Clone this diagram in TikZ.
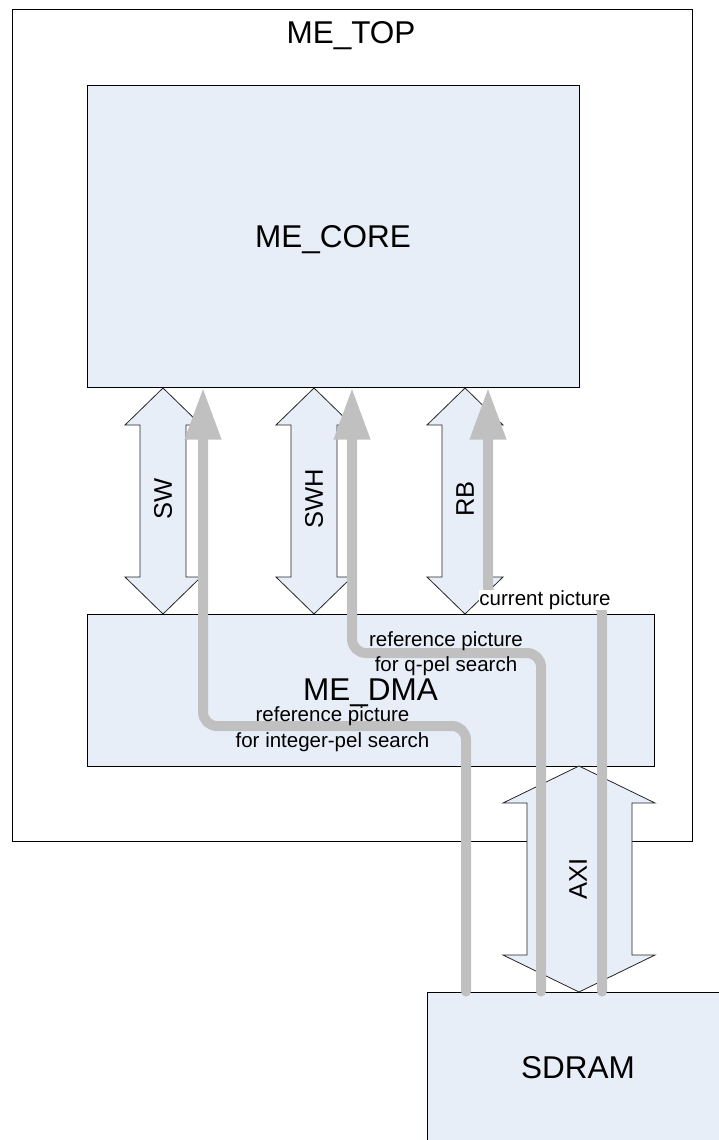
\documentclass[tikz,border=0pt]{standalone}
\usepackage{fontspec}
\setmainfont{Liberation Sans}
\usetikzlibrary{positioning,arrows.meta}
\definecolor{boxblue}{RGB}{232,238,247}
\definecolor{feedgray}{RGB}{192,192,192}

\begin{document}
\begin{tikzpicture}[x=1pt,y=-1pt,
  blk/.style={draw=black,line width=1pt,fill=boxblue,inner sep=0pt,text depth=0pt},
  bus/.style={draw=black!85,line width=0.8pt,fill=boxblue,line join=miter},
  feed/.style={draw=feedgray,line width=10pt,rounded corners=14pt,line cap=round,-{Triangle[width=34pt,length=52pt]}},
  big/.style={font=\fontsize{31.5}{36}\selectfont},
  buslab/.style={font=\fontsize{25.5}{30}\selectfont,rotate=90,inner sep=0pt},
  lab/.style={font=\fontsize{20.5}{25.5}\selectfont,align=center,inner sep=0pt}]
\useasboundingbox (0,0) rectangle (719,1140);
\clip (0,0) rectangle (719,1140);
% outer block
\node[draw=black,line width=1pt,minimum width=680pt,minimum height=831pt,inner sep=0pt] (top) at (352,425.5) {};
\node[big,anchor=base] (toplab) at (351,44) {ME\_TOP};
% inner blocks
\node[blk,big,minimum width=492pt,minimum height=302pt] (core) at (333,236) {ME\_CORE};
\node[blk,big,minimum width=567pt,minimum height=152pt] (dma) at (370.5,690) {ME\_DMA};
\node[blk,big,minimum width=302pt,minimum height=150pt] (sdram) at (578,1067) {SDRAM};
% buses core <-> dma
\foreach \cx/\lab in {163/SW,314/SWH,465/RB}{
  \draw[bus] (\cx,388) -- ++(38,37) -- ++(-15,0) -- (\cx+23,577) -- ++(15,0) -- (\cx,614)
    -- ++(-38,-37) -- ++(15,0) -- (\cx-23,425) -- ++(-15,0) -- cycle;
  \node[buslab] (l\lab) at (\cx,499) {\lab};
}
% bus dma <-> sdram
\draw[bus] (579,766) -- (655,803) -- (632,803) -- (632,955) -- (655,955) -- (579,992)
  -- (503,955) -- (527,955) -- (527,803) -- (503,803) -- cycle;
\node[buslab] (laxi) at (578,879) {AXI};
% data flows from sdram
\draw[feed] (466,0 |- sdram.north) |- (203,726) -- (203,0 |- core.south);
\draw[feed] (541,0 |- sdram.north) |- (352,653) -- (352,0 |- core.south);
\draw[feed] (602,0 |- sdram.north) |- (488,600) -- (488,0 |- core.south);
% flow labels
\node[lab,anchor=base,fill=white,inner sep=0.5pt] (curlab) at (545,605.7) {current picture};
\node[lab] (qlab) at (446,653.6) {reference picture\\for q-pel search};
\node[lab] (intlab) at (332.5,729.1) {reference picture\\for integer-pel search};
\end{tikzpicture}
\end{document}
